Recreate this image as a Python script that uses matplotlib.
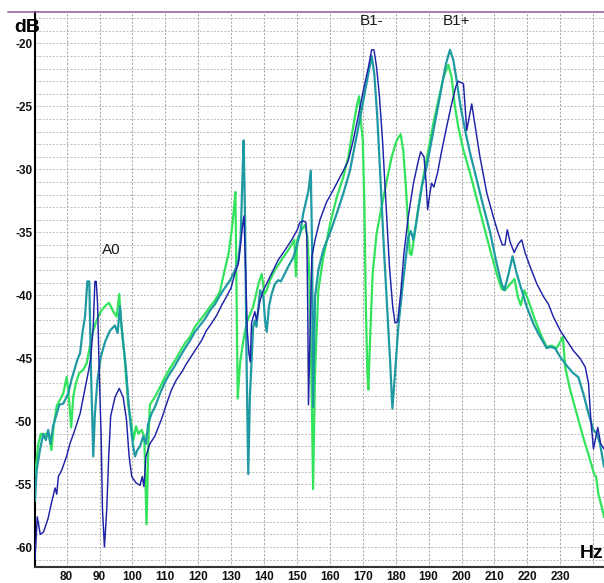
import matplotlib
matplotlib.use("Agg")
import matplotlib.pyplot as plt
from matplotlib.lines import Line2D
from matplotlib.ticker import MultipleLocator, FixedLocator

# ---- data ----
blue_f = [70.4, 71.1, 72.0, 73.0, 74.4, 75.4, 76.5, 77.0, 77.5, 78.5, 80.0, 81.0, 82.5, 84.1, 85.1,
          86.3, 87.3, 88.1, 88.6, 89.0, 89.4, 89.9, 90.5, 90.9, 91.5, 92.2, 92.8, 93.4, 94.7, 96.0,
          97.2, 98.2, 99.0, 99.8, 101.1, 102.3, 103.0, 103.5, 104.1, 105.3, 106.8, 108.9, 110.4,
          111.9, 113.4, 115.0, 116.5, 118.0, 119.5, 121.0, 122.5, 124.1, 125.6, 127.1, 128.6,
          130.0, 131.2, 132.2, 132.9, 133.5, 133.9, 134.4, 134.9, 135.4, 135.8, 136.2, 137.2,
          137.7, 138.8, 139.8, 141.3, 142.8, 144.3, 146.4, 148.4, 150.1, 150.9, 151.9, 152.7,
          153.0, 153.3, 153.5, 154.0, 154.5, 155.5, 157.0, 159.0, 161.1, 163.1, 164.1, 165.6,
          167.1, 168.6, 170.2, 171.7, 172.7, 173.4, 174.2, 175.0, 176.0, 177.0, 178.1, 179.1,
          179.8, 180.6, 181.5, 182.5, 183.8, 185.4, 186.9, 187.6, 188.6, 189.2, 189.7, 190.4,
          190.9, 191.6, 192.7, 194.0, 195.5, 197.0, 198.3, 199.0, 200.6, 201.6, 202.4, 203.1,
          204.1, 205.6, 207.7, 209.7, 211.2, 212.4, 213.2, 213.9, 214.8, 216.0, 217.3, 218.3,
          219.3, 220.8, 222.9, 224.9, 226.4, 227.9, 230.0, 232.0, 234.0, 236.0, 237.6, 238.6,
          239.3, 240.1, 240.8, 241.4, 242.3, 243.3]
blue_db = [-61.0, -57.6, -59.0, -58.8, -57.7, -56.5, -55.3, -55.8, -54.4, -53.9, -52.8, -51.8, -50.7,
           -49.4, -48.1, -46.5, -45.1, -42.5, -38.9, -38.9, -40.6, -45.9, -51.2, -57.0, -60.0, -57.0,
           -52.8, -49.6, -48.1, -47.4, -48.1, -49.9, -52.8, -54.4, -54.9, -55.1, -54.4, -55.2, -52.8,
           -51.8, -51.2, -49.8, -48.6, -47.5, -46.7, -46.1, -45.4, -44.8, -44.2, -43.6, -42.8, -42.2,
           -41.6, -40.8, -40.1, -39.4, -38.2, -37.5, -35.9, -34.4, -33.7, -38.0, -42.8, -44.6, -45.3,
           -42.2, -41.3, -42.0, -40.4, -39.6, -38.8, -38.0, -37.2, -36.4, -35.6, -34.8, -34.2, -34.1,
           -34.2, -35.4, -41.5, -48.7, -42.8, -37.0, -35.6, -34.0, -32.6, -31.6, -30.6, -30.1, -29.3,
           -27.7, -25.8, -23.7, -21.9, -20.5, -20.5, -21.9, -24.0, -27.7, -32.5, -37.7, -40.9, -42.2,
           -42.1, -39.9, -36.7, -33.8, -31.1, -29.3, -28.6, -29.0, -30.9, -33.2, -31.9, -31.1, -31.4,
           -30.3, -28.5, -26.6, -24.8, -23.4, -23.0, -23.2, -26.9, -25.8, -24.8, -26.5, -29.0, -31.9,
           -33.8, -35.1, -36.0, -36.0, -34.8, -35.8, -36.6, -35.9, -35.6, -36.6, -37.7, -39.1, -40.1,
           -40.7, -41.7, -42.8, -43.6, -44.4, -45.0, -45.7, -47.0, -49.9, -52.2, -51.3, -50.5, -51.8,
           -52.2]

teal_f = [70.4, 70.9, 71.9, 72.9, 73.7, 74.4, 75.1, 75.9, 76.8, 77.8, 79.0, 80.5, 81.5, 82.5, 83.3,
          84.1, 84.8, 85.6, 86.3, 86.9, 87.4, 88.1, 88.6, 89.4, 90.4, 91.7, 93.2, 94.7, 95.5, 96.2,
          97.0, 98.0, 99.0, 100.1, 100.8, 101.5, 102.3, 103.3, 104.1, 104.8, 105.8, 106.8, 108.4,
          109.9, 111.4, 112.9, 114.4, 116.0, 117.5, 119.0, 120.5, 122.0, 123.6, 125.1, 126.6,
          127.6, 129.7, 131.2, 132.2, 132.9, 133.4, 133.8, 134.2, 134.7, 135.2, 135.7, 136.7,
          137.2, 137.7, 138.8, 139.8, 140.3, 140.8, 141.5, 142.3, 143.3, 144.3, 145.1, 145.9,
          147.4, 148.9, 149.9, 151.0, 151.9, 153.5, 154.2, 154.6, 154.9, 155.5, 156.5, 158.0,
          160.1, 162.1, 164.1, 166.1, 168.1, 170.2, 171.7, 172.7, 173.5, 174.4, 175.4, 176.4,
          177.5, 178.3, 179.0, 179.8, 180.8, 182.3, 183.8, 184.6, 185.4, 186.4, 187.9, 189.4,
          190.9, 192.4, 194.0, 195.3, 196.5, 197.5, 198.5, 199.7, 201.1, 202.6, 204.6, 206.7,
          208.7, 210.7, 212.2, 213.0, 214.3, 215.5, 216.8, 218.3, 219.8, 221.9, 223.9, 225.9,
          226.9, 228.4, 230.0, 232.0, 234.0, 235.5, 237.0, 238.6, 240.1, 241.1, 242.1, 243.3]
teal_db = [-56.3, -53.9, -52.3, -51.0, -51.5, -50.7, -51.8, -50.4, -49.6, -48.7, -48.6, -47.8, -46.7,
           -45.8, -45.1, -44.6, -43.0, -41.7, -38.9, -38.9, -45.9, -52.8, -49.4, -46.7, -44.9, -43.7,
           -42.8, -42.4, -43.0, -40.9, -43.3, -45.7, -49.1, -51.8, -52.8, -52.3, -52.0, -51.2, -51.8,
           -50.2, -49.4, -48.9, -47.8, -46.9, -46.2, -45.6, -44.9, -44.2, -43.6, -42.9, -42.4, -41.9,
           -41.2, -40.7, -40.0, -39.6, -38.8, -38.0, -37.2, -35.4, -30.9, -27.7, -33.5, -45.4, -54.2,
           -48.0, -42.5, -42.0, -42.5, -39.6, -40.1, -42.0, -42.9, -40.9, -39.9, -39.1, -38.8, -38.9,
           -38.5, -37.7, -37.0, -36.1, -35.0, -33.5, -31.7, -30.1, -36.2, -48.9, -40.1, -38.0, -36.4,
           -35.0, -33.5, -31.9, -30.1, -27.4, -24.5, -22.4, -21.0, -22.4, -25.8, -30.9, -36.2, -41.4,
           -45.2, -49.0, -46.2, -42.5, -38.8, -35.4, -34.9, -35.6, -34.0, -31.4, -29.8, -27.7, -25.6,
           -23.4, -21.6, -20.5, -21.3, -22.9, -25.0, -26.9, -28.7, -30.8, -33.0, -35.0, -37.5, -39.1,
           -39.6, -38.3, -36.9, -38.3, -39.6, -40.9, -42.3, -43.3, -44.2, -44.1, -44.2, -44.9, -45.6,
           -46.2, -46.5, -47.8, -49.4, -50.7, -51.0, -51.8, -53.6]

green_f = [70.4, 71.4, 72.2, 73.1, 73.9, 74.7, 75.4, 76.1, 77.0, 78.0, 79.0, 80.0, 80.5, 81.4, 82.0,
           82.8, 83.8, 85.1, 86.1, 86.9, 87.9, 89.1, 90.6, 91.9, 92.9, 94.2, 95.2, 96.0, 96.5, 97.5,
           98.7, 99.5, 100.3, 101.1, 101.8, 102.8, 103.6, 104.3, 104.9, 105.3, 106.8, 108.4, 109.9,
           111.4, 112.9, 114.4, 116.0, 117.5, 119.0, 120.5, 122.0, 123.6, 125.1, 126.6, 127.6,
           129.2, 130.2, 130.9, 131.3, 131.6, 132.0, 132.7, 133.7, 134.7, 136.7, 138.3, 139.3,
           140.1, 140.8, 141.8, 143.3, 145.3, 147.4, 149.2, 149.7, 150.1, 151.4, 152.5, 153.2,
           153.8, 154.5, 154.9, 155.5, 156.5, 158.0, 160.1, 162.1, 164.1, 165.6, 167.1, 168.3,
           168.9, 169.5, 170.0, 170.5, 170.9, 171.4, 171.7, 172.2, 173.0, 174.2, 175.7, 177.3,
           178.8, 180.3, 181.5, 182.3, 183.1, 183.8, 184.3, 184.8, 185.6, 186.9, 188.4, 189.9,
           191.4, 193.0, 194.5, 196.0, 197.0, 198.0, 199.0, 200.6, 202.6, 204.6, 206.7, 208.7,
           210.7, 212.2, 213.2, 214.8, 216.1, 217.1, 218.0, 219.1, 220.3, 222.4, 224.4, 225.9,
           227.4, 228.9, 230.0, 230.8, 231.5, 233.0, 235.0, 237.0, 239.1, 240.3, 240.9, 241.6,
           242.6, 243.3]
green_db = [-54.4, -51.8, -51.0, -51.1, -51.0, -51.2, -52.3, -50.3, -48.8, -48.3, -47.8, -46.5, -47.5,
            -50.5, -48.1, -47.0, -46.2, -45.9, -45.4, -44.3, -43.0, -42.0, -41.2, -40.8, -40.6, -41.3,
            -41.7, -39.9, -42.0, -44.6, -48.6, -49.9, -51.5, -50.4, -51.0, -50.7, -51.2, -58.2, -51.2,
            -48.7, -48.1, -47.3, -46.5, -45.8, -45.2, -44.5, -43.8, -43.3, -42.5, -42.0, -41.5, -40.9,
            -40.4, -39.7, -38.5, -36.7, -34.8, -33.0, -31.8, -38.8, -48.2, -45.4, -43.6, -42.2, -40.9,
            -39.1, -38.3, -39.9, -39.6, -38.8, -38.0, -37.2, -36.4, -35.6, -38.5, -35.6, -34.8, -34.4,
            -35.4, -38.8, -48.1, -55.4, -46.0, -39.6, -37.0, -34.3, -32.2, -30.6, -29.0, -26.6, -24.8,
            -24.2, -26.4, -27.7, -33.0, -40.4, -46.2, -47.5, -43.6, -38.3, -35.1, -33.0, -30.9, -29.0,
            -27.7, -27.2, -28.5, -31.4, -34.6, -36.7, -36.8, -35.4, -33.0, -30.6, -28.5, -26.4, -24.5,
            -22.7, -21.7, -22.7, -25.0, -26.6, -28.5, -30.3, -32.3, -34.4, -36.4, -38.3, -39.5, -39.6,
            -39.1, -38.7, -40.1, -40.8, -39.6, -40.4, -42.0, -43.3, -44.1, -44.0, -44.2, -43.7, -43.3,
            -45.7, -47.5, -49.4, -51.3, -53.1, -54.2, -54.4, -55.8, -56.8, -57.6]

x_ticks = [80, 90, 100, 110, 120, 130, 140, 150, 160, 170, 180, 190, 200, 210, 220, 230]
y_ticks = [-20, -25, -30, -35, -40, -45, -50, -55, -60]
annotations = [("A0", 93.5, -36.4), ("B1-", 172.8, -18.2), ("B1+", 198.5, -18.2)]

# ---- figure ----
FONT = ["Liberation Sans", "DejaVu Sans"]
plt.rcParams["font.family"] = FONT

W, H = 604, 583
fig = plt.figure(figsize=(W / 100, H / 100), dpi=100)
left, right, top, bottom = 35, 604, 12, 566.7
ax = fig.add_axes([left / W, 1 - bottom / H, (right - left) / W, (bottom - top) / H])
ax.set_xlim(70.4, 243.3)
ax.set_ylim(-61.56, -17.5)

# grid
ax.xaxis.set_major_locator(FixedLocator(x_ticks))
ax.xaxis.set_minor_locator(FixedLocator([240]))
ax.yaxis.set_major_locator(FixedLocator(y_ticks))
ax.yaxis.set_minor_locator(MultipleLocator(1))
ax.grid(True, which="both", axis="y", color="#bdbdbd", linestyle=(0, (2.0, 1.6)), linewidth=0.7)
ax.grid(True, which="both", axis="x", color="#a6a6a6", linestyle=(0, (2.0, 1.6)), linewidth=0.75)
ax.set_axisbelow(True)

ax.plot(green_f, green_db, color="#33e35c", lw=1.6, zorder=3)
ax.plot(teal_f, teal_db, color="#1f9aa3", lw=1.6, zorder=4)
ax.plot(blue_f, blue_db, color="#1e22a6", lw=1.05, zorder=5)

for label, fx, fy in annotations:
    ax.text(fx, fy, label, fontsize=11, color="#1a1a1a", ha="center", va="center", zorder=6)

# spines
for s in ("top", "right"):
    ax.spines[s].set_visible(False)
ax.spines["left"].set_color("black")
ax.spines["left"].set_linewidth(1.5)
ax.spines["bottom"].set_color("#333333")
ax.spines["bottom"].set_linewidth(1.5)

ax.tick_params(axis="both", which="both", length=0)
ax.tick_params(axis="y", pad=2)
ax.tick_params(axis="x", pad=3)
ax.set_xticklabels([str(v) for v in x_ticks])
ax.set_yticklabels([str(v) for v in y_ticks])
for lab in ax.get_xticklabels() + ax.get_yticklabels():
    lab.set_fontweight("bold")
    lab.set_fontsize(8.5)
    lab.set_color("#111111")

# top purple line
fig.add_artist(Line2D([8 / W, 1.0], [1 - 12 / H, 1 - 12 / H], color="#8c5a9e", lw=1.1,
                      transform=fig.transFigure))

fig.text(27 / W, 1 - 27 / H, "dB", fontsize=14, fontweight="bold", ha="center", va="center")
fig.text(580 / W, 1 - 553 / H, "Hz", fontsize=14, fontweight="bold", ha="left", va="center")

fig.savefig("out.png", dpi=100)
